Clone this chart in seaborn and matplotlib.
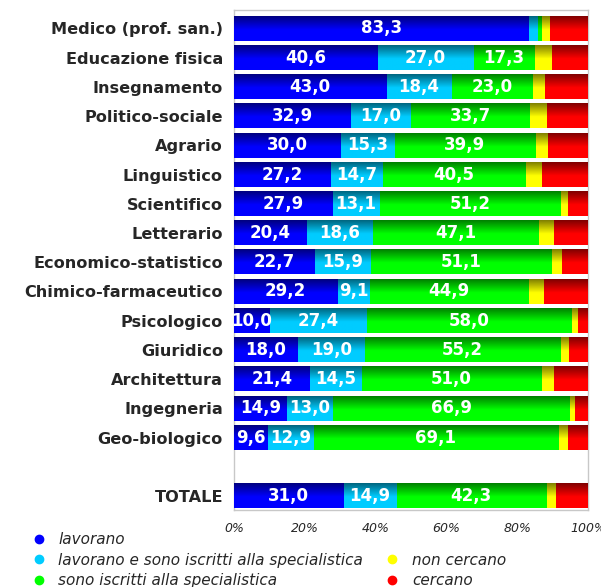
import numpy as np
import pandas as pd
import matplotlib
matplotlib.use("Agg")
import matplotlib.pyplot as plt
from matplotlib.colors import to_rgb
from matplotlib.lines import Line2D
import seaborn as sns

# dati (percentuali per corso di laurea)
corsi = ["Medico (prof. san.)", "Educazione fisica", "Insegnamento", "Politico-sociale",
         "Agrario", "Linguistico", "Scientifico", "Letterario", "Economico-statistico",
         "Chimico-farmaceutico", "Psicologico", "Giuridico", "Architettura", "Ingegneria",
         "Geo-biologico", "TOTALE"]
lavorano = [83.3, 40.6, 43.0, 32.9, 30.0, 27.2, 27.9, 20.4, 22.7, 29.2, 10.0, 18.0, 21.4, 14.9, 9.6, 31.0]
lav_iscritti = [2.4, 27.0, 18.4, 17.0, 15.3, 14.7, 13.1, 18.6, 15.9, 9.1, 27.4, 19.0, 14.5, 13.0, 12.9, 14.9]
iscritti = [1.2, 17.3, 23.0, 33.7, 39.9, 40.5, 51.2, 47.1, 51.1, 44.9, 58.0, 55.2, 51.0, 66.9, 69.1, 42.3]
non_cercano = [2.2, 4.9, 3.2, 4.6, 3.3, 4.4, 1.9, 4.1, 2.7, 4.1, 1.6, 2.2, 3.3, 1.3, 2.5, 2.7]
cercano = [10.9, 10.2, 12.4, 11.8, 11.5, 13.2, 5.9, 9.8, 7.6, 12.7, 3.0, 5.6, 9.8, 3.9, 5.9, 9.1]

serie = ["lavorano", "lavorano e sono iscritti alla specialistica",
         "sono iscritti alla specialistica", "non cercano", "cercano"]
colori = ["#0000ff", "#00ccff", "#00ff00", "#ffff00", "#ff0000"]
xticks = [0, 20, 40, 60, 80, 100]

valori = [lavorano, lav_iscritti, iscritti, non_cercano, cercano]
df = pd.DataFrame({"corso": corsi})
cum = np.zeros(len(corsi))
for i, v in enumerate(valori):
    cum = cum + np.array(v)
    df[f"cum{i}"] = cum

# slot vuoto prima del totale
ordine = corsi[:-1] + [" "] + ["TOTALE"]

sns.set_style("white")
fig = plt.figure(figsize=(6.01, 5.87), dpi=100)
ax = fig.add_axes([234 / 601, 1 - 510 / 587, 354 / 601, 500 / 587])

def gradiente(col, n=60):
    r, g, b = to_rgb(col)
    t = np.linspace(0, 1, n)
    f = 0.5 + 0.5 * np.clip(t / 0.55, 0, 1)
    arr = np.zeros((n, 1, 3))
    arr[:, 0, 0] = r * f
    arr[:, 0, 1] = g * f
    arr[:, 0, 2] = b * f
    return arr

# barre cumulate, dalla piu lunga alla piu corta
for k in reversed(range(len(serie))):
    n0 = len(ax.patches)
    sns.barplot(data=df, x=f"cum{k}", y="corso", order=ordine, color=colori[k],
                saturation=1, width=0.84, errorbar=None, ax=ax)
    grad = gradiente(colori[k])
    for p in ax.patches[n0:]:
        x0, y0, w, h = p.get_x(), p.get_y(), p.get_width(), p.get_height()
        p.set_visible(False)
        ax.imshow(grad, extent=(x0, x0 + w, y0 + h, y0), aspect="auto",
                  interpolation="bilinear", zorder=2 + (len(serie) - k))

# etichette dei valori (solo segmenti abbastanza larghi)
for i, c in enumerate(corsi):
    pos = ordine.index(c)
    start = 0
    for k in range(3):
        v = valori[k][i]
        if v >= 5:
            ax.text(start + v / 2, pos, f"{v:.1f}".replace(".", ","), ha="center", va="center",
                    color="white", fontweight="bold", fontsize=12, zorder=20)
        start += v

ax.set_xlim(0, 100)
ax.set_ylim(16.48, -0.63)
ax.set_xticks(xticks)
ax.set_xticklabels([f"{t}%" for t in xticks], fontstyle="italic", fontsize=9)
ax.set_yticks(range(len(ordine)))
ax.set_yticklabels(ordine, fontweight="bold", fontsize=11.6)
ax.set_xlabel("")
ax.set_ylabel("")
ax.tick_params(axis="x", length=0, pad=9)
ax.tick_params(axis="y", length=0, pad=8)
for s in ax.spines.values():
    s.set_color("#c8c8c8")
    s.set_linewidth(1)

# legenda
def pallino(col):
    return Line2D([], [], marker="o", linestyle="none", markersize=6,
                  markerfacecolor=col, markeredgecolor=col)

handles = [pallino(colori[0]), pallino(colori[1]), pallino(colori[2]),
           Line2D([], [], linestyle="none"), pallino(colori[3]), pallino(colori[4])]
labels = [serie[0], serie[1], serie[2], "", serie[3], serie[4]]
leg = fig.legend(handles, labels, ncol=2, loc="upper left",
                 bbox_to_anchor=(31 / 601, 1 - 532 / 587), frameon=False,
                 prop={"style": "italic", "size": 11}, handlelength=1.0,
                 handletextpad=0.8, labelspacing=0.37, columnspacing=1.4,
                 borderaxespad=0, borderpad=0)

fig.savefig("out.png", dpi=100)
